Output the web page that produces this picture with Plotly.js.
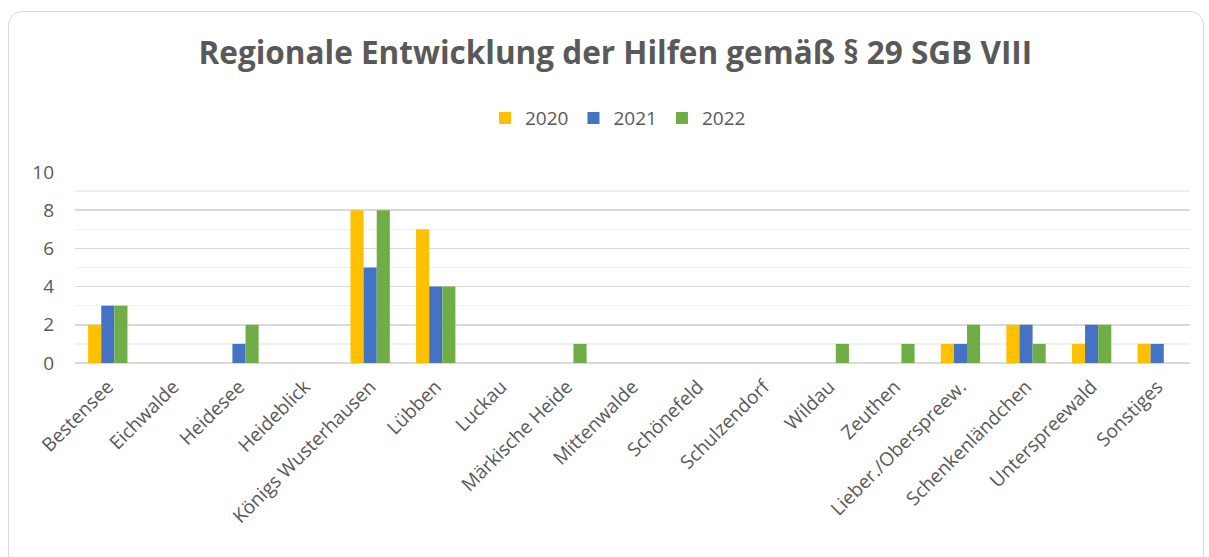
<!DOCTYPE html>
<html>
<head>
<meta charset="utf-8">
<script src="https://cdn.plot.ly/plotly-3.0.1.min.js"></script>
<style>
html,body{margin:0;padding:0;background:#fff;}
#wrap{position:relative;width:1209px;height:557px;}
#chart{position:absolute;left:0;top:0;width:1209px;height:557px;}
#frame{position:absolute;left:8px;top:11px;width:1196px;height:560px;border:1.5px solid #d9d9d9;border-radius:14px;pointer-events:none;box-sizing:border-box;}
</style>
</head>
<body>
<div id="wrap"><div id="chart"></div><div id="frame"></div></div>
<script>
const categories = ["Bestensee","Eichwalde","Heidesee","Heideblick","Königs Wusterhausen","Lübben","Luckau","Märkische Heide","Mittenwalde","Schönefeld","Schulzendorf","Wildau","Zeuthen","Lieber./Oberspreew.","Schenkenländchen","Unterspreewald","Sonstiges"];
const values2020 = [2,0,0,0,8,7,0,0,0,0,0,0,0,1,2,1,1];
const values2021 = [3,0,1,0,5,4,0,0,0,0,0,0,0,1,2,2,1];
const values2022 = [3,0,2,0,8,4,0,1,0,0,0,1,1,2,1,2,0];
const seriesNames = ["2020","2021","2022"];
const colors = ["#FFC000","#4472C4","#70AD47"];
const yTicks = [0,2,4,6,8,10];

const allVals = [values2020, values2021, values2022];
const traces = allVals.map((v,i)=>({
  type:'bar', name:seriesNames[i], x:categories, y:v,
  marker:{color:colors[i], line:{width:0}},
  hoverinfo:'x+y'
}));

const layout = {
  width:1209, height:557,
  margin:{l:75, r:19, t:171, b:194},
  paper_bgcolor:'rgba(0,0,0,0)', plot_bgcolor:'#fff',
  font:{family:'"Open Sans", sans-serif', color:'#595959'},
  title:{text:'Regionale Entwicklung der Hilfen gemäß § 29 SGB VIII', font:{family:'"Open Sans", sans-serif', size:31.5, color:'#595959', weight:'bold'}, x:0.509, xanchor:'center', y:0.905, yanchor:'middle'},
  barmode:'group', bargap:0.4, bargroupgap:0,
  showlegend:true,
  legend:{orientation:'h', x:0.487, xanchor:'center', y:1.275, yanchor:'middle', font:{size:19, color:'#595959'}, itemwidth:30, traceorder:'normal'},
  xaxis:{type:'category', tickangle:-45, tickfont:{size:19, color:'#595959'}, showgrid:false, showline:false, ticks:'', zeroline:false, ticklabelstandoff:8},
  yaxis:{range:[0,10.05], tickvals:yTicks, tickfont:{size:19, color:'#595959'}, showgrid:true, gridcolor:'#d9d9d9', gridwidth:1.5, zeroline:true, zerolinecolor:'#d9d9d9', zerolinewidth:1.5, showline:false, ticks:'', ticklabelstandoff:20,
    minor:{dtick:1, tick0:0, showgrid:true, gridcolor:'#f0f0f0', gridwidth:1.5}}
};
Plotly.newPlot('chart', traces, layout, {displayModeBar:false, staticPlot:true});
</script>
</body>
</html>
